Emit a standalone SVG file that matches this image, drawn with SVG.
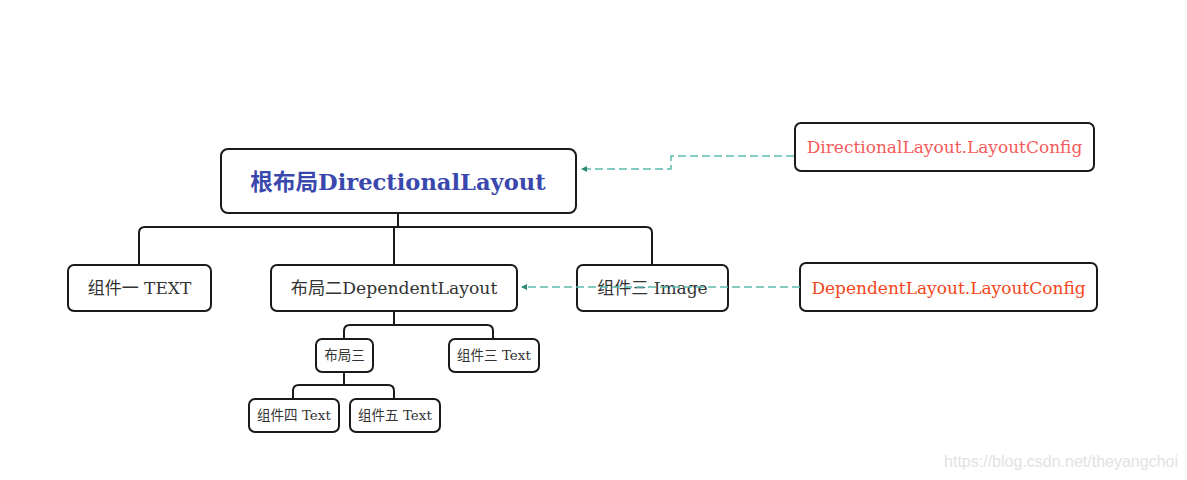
<svg xmlns="http://www.w3.org/2000/svg" width="1187" height="480" viewBox="0 0 1187 480">
<style>
.box{fill:#fff;stroke:#1a1a1a;stroke-width:2}
.lbl{font-family:"DejaVu Serif","Noto Sans CJK SC",serif;fill:#333;text-anchor:middle}
.tree{fill:none;stroke:#1a1a1a;stroke-width:2}
.dash{fill:none;stroke:#5cbcae;stroke-width:1.5;stroke-dasharray:8 4}
</style>
<defs>
<marker id="ah" viewBox="0 0 6 6" refX="5" refY="3" markerWidth="4" markerHeight="4" orient="auto"><path d="M0,0 L6,3 L0,6 Z" fill="#2a8a7a"/></marker>
</defs>
<rect width="1187" height="480" fill="#fff"/>
<g id="root"><rect class="box" x="221" y="149" width="355" height="64" rx="7"/>
<text class="lbl" x="398" y="190" font-size="22.6" font-weight="bold" style="fill:#3a48ad">根布局DirectionalLayout</text></g>
<g id="dirConfig"><rect class="box" x="795" y="123" width="299" height="48" rx="6"/>
<text class="lbl" x="944.5" y="153" font-size="17" style="fill:#f55a5a">DirectionalLayout.LayoutConfig</text></g>
<g id="c1"><rect class="box" x="68" y="265" width="143" height="46" rx="6"/>
<text class="lbl" x="139.5" y="294" font-size="17">组件一 TEXT</text></g>
<g id="c2"><rect class="box" x="271" y="265" width="246" height="46" rx="6"/>
<text class="lbl" x="394" y="294" font-size="17.2">布局二DependentLayout</text></g>
<g id="c3"><rect class="box" x="577" y="265" width="151" height="46" rx="6"/>
<text class="lbl" x="652.5" y="294" font-size="17">组件三 Image</text></g>
<g id="depConfig"><rect class="box" x="800" y="263" width="297" height="48" rx="6"/>
<text class="lbl" x="948.5" y="294" font-size="17" style="fill:#f5451a">DependentLayout.LayoutConfig</text></g>
<g id="l3"><rect class="box" x="316" y="339" width="57" height="33" rx="6"/>
<text class="lbl" x="344.5" y="360" font-size="13.5">布局三</text></g>
<g id="t3"><rect class="box" x="449" y="339" width="90" height="33" rx="6"/>
<text class="lbl" x="494" y="360" font-size="13.5">组件三 Text</text></g>
<g id="t4"><rect class="box" x="249" y="399" width="90" height="33" rx="6"/>
<text class="lbl" x="294" y="420" font-size="13.5">组件四 Text</text></g>
<g id="t5"><rect class="box" x="350" y="399" width="90" height="33" rx="6"/>
<text class="lbl" x="395" y="420" font-size="13.5">组件五 Text</text></g>
<g id="connectors">
<path class="tree" d="M398,213 V227 M145,227 H646 Q652,227 652,233 V265 M145,227 Q139,227 139,233 V265 M394,227 V265"/>
<path class="tree" d="M394,311 V325 M350,325 H487 Q493,325 493,331 V339 M350,325 Q344,325 344,331 V339"/>
<path class="tree" d="M344,372 V385 M299,385 H388 Q394,385 394,391 V399 M299,385 Q293,385 293,391 V399"/>
<path class="dash" d="M794,156 H671 V169 H582" marker-end="url(#ah)"/>
<path class="dash" d="M800,287 H522" marker-end="url(#ah)"/>
</g>
<text x="1178" y="467" font-family="Liberation Sans, sans-serif" font-size="16" fill="#e2e2e2" text-anchor="end">https://blog.csdn.net/theyangchoi</text>
</svg>
